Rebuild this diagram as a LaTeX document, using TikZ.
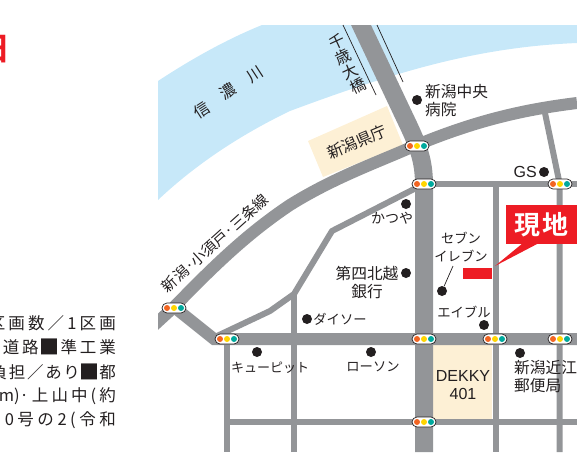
\documentclass[tikz,border=0pt]{standalone}
\usepackage{fontspec}
\setmainfont{Noto Sans CJK JP}
\newfontfamily\jpb{Noto Sans CJK JP Bold}
\newfontfamily\latn{Liberation Sans}
\definecolor{river}{HTML}{C7E8F9}
\definecolor{road}{HTML}{939598}
\definecolor{tan}{HTML}{FDF0D5}
\definecolor{mapred}{HTML}{ED1C24}
\definecolor{ink}{HTML}{231F20}
\definecolor{sigO}{HTML}{F26522}
\definecolor{sigY}{HTML}{FFD500}
\definecolor{sigG}{HTML}{00A99D}
\tikzset{
  roadwide/.style={draw=road,line width=18pt},
  roadmid/.style={draw=road,line width=12pt},
  roadthin/.style={draw=road,line width=6pt},
  lbl/.style={inner sep=0pt,text=ink,font=\fontsize{15.7}{18}\selectfont,align=center},
  lbls/.style={lbl,font=\fontsize{13.3}{18}\selectfont},
  spot/.style={circle,fill=ink,minimum size=10pt,inner sep=0pt},
  sigbox/.style={draw=ink,line width=0.7pt,fill=white,rounded corners=5pt,minimum width=24pt,minimum height=10pt,inner sep=0pt},
  sigdot/.style={circle,minimum size=6pt,inner sep=0pt},
  body/.style={inner sep=0pt,text=ink,anchor=east,font=\fontsize{16.5}{18}\selectfont}
}
\newcommand{\sig}[2]{%
  \node[sigbox] (#1) at (#2) {};
  \node[sigdot,fill=sigO,xshift=-7pt] at (#1) {};
  \node[sigdot,fill=sigY] at (#1) {};
  \node[sigdot,fill=sigG,xshift=7pt] at (#1) {};
}
\newcommand{\spread}[2]{\hbox to #1pt{\let\,\hfil #2}}
\newcommand{\blk}{\makebox[16pt]{\raisebox{-1.2pt}{\fontsize{20}{20}\selectfont ■}}}
\begin{document}
\begin{tikzpicture}[x=1pt,y=-1pt]
\useasboundingbox (0,0) rectangle (577,463);
% river
\fill[river] (158,81) .. controls (190,60) and (225,40) .. (262,25) -- (577,25) -- (577,43)
  .. controls (480,47) and (400,70) .. (290,111) .. controls (240,135) and (195,165) .. (158,200) -- cycle;
% tan blocks
\fill[tan] (308,141) -- (387,106) -- (403,145) -- (323,177) -- cycle;
\fill[tan] (433,345) rectangle (492,420);
% roads, cut to the map frame
\begin{scope}
\clip (158,25) rectangle (577,452);
\draw[roadthin] (424,184) -- (577,184);
\draw[roadthin] (227,422) -- (577,422);
\draw[roadthin] (495.5,184) -- (495.5,452);
\draw[roadthin] (559.7,452) -- (559.7,184) -- (545,113);
\draw[roadthin] (227,339) -- (227,452);
\draw[roadthin] (294,452) -- (294,294);
\draw[roadthin,line join=round] (217,336) -- (270,311) -- (294,294) -- (332,231) -- (420,186);
\draw[roadmid] (150,329) -- (174,307) .. controls (210,270) and (245,235) .. (290,205)
  .. controls (330,180) and (370,165) .. (405,150) .. controls (470,122) and (520,110) .. (577,103);
\draw[roadmid] (174,307) -- (214,339) -- (577,339);
\draw[roadwide] (352,6) -- (405,118) .. controls (418,145) and (424,160) .. (424,185) -- (424,452);
\end{scope}
% bridge railings
\draw[ink,line width=0.7pt] (343,25) -- (376,95);
\draw[ink,line width=0.7pt] (377,25) -- (403,82);
% signals
\sig{s1}{417,146}
\sig{s2}{424,184}
\sig{s3}{560,184}
\sig{s4}{174,308}
\sig{s5}{227,339}
\sig{s6}{424,339}
\sig{s7}{495,339}
\sig{s8}{560,339}
\sig{s9}{424,422}
% landmarks
\node[spot] (hosp) at (417,100) {};
\node[spot] (gs) at (544,172) {};
\node[spot] (katsu) at (406,204) {};
\node[spot] (bank) at (406,273) {};
\node[spot] (seven) at (442,291) {};
\node[spot] (able) at (484,325) {};
\node[spot] (daiso) at (307,319) {};
\node[spot] (qp) at (257,352) {};
\node[spot] (lawson) at (371,352) {};
\node[spot] (post) at (520,353) {};
\coordinate (sevenlab) at (453,266);
\draw[ink,line width=0.7pt] (seven) -- (sevenlab);
% labels
\node[lbl,anchor=west,align=left] at (425,101) {新潟中央\\病院};
\node[lbl,anchor=east,font=\latn\fontsize{16}{18}\selectfont] at (537,172) {GS};
\node[lbls,font=\fontsize{14}{18}\selectfont] at (392,218) {かつや};
\node[lbls] at (461,247) {セブン\\イレブン};
\node[lbl] at (367,283) {第四北越\\銀行};
\node[lbls] at (464,312) {エイブル};
\node[lbls] at (340,319) {ダイソー};
\node[lbls,font=\fontsize{13}{18}\selectfont] at (270,368) {キューピット};
\node[lbls] at (373,367) {ローソン};
\node[lbl,font=\latn\fontsize{16}{18.5}\selectfont] at (463,385) {DEKKY\\401};
\node[lbl,anchor=west,align=left] at (514,377) {新潟近江\\郵便局};
\node[lbl,rotate=23] at (357,142) {新潟県庁};
\node[lbl,rotate=33] at (202,110) {信};
\node[lbl,rotate=33] at (228,91) {濃};
\node[lbl,rotate=33] at (255,75) {川};
\node[lbl,rotate=25] at (337,42) {千};
\node[lbl,rotate=25] at (343,57) {歳};
\node[lbl,rotate=25] at (350,72) {大};
\node[lbl,rotate=25] at (358,86) {橋};
\node[lbl,rotate=42,font=\fontsize{15}{16}\selectfont] at (215,243) {新潟·小須戸·三条線};
% site marker
\fill[mapred] (463,268) rectangle (492,279);
\node[fill=mapred,minimum width=71pt,minimum height=39pt,inner sep=0pt] (site) at (541.5,224.5) {};
\coordinate (tip) at (495,266);
\fill[mapred] (523,243) -- (tip) -- (539,243) -- cycle;
\node[inner sep=0pt,text=white,font=\jpb\fontsize{26}{28}\selectfont] at (site) {現\hspace{2pt}地};
% cropped text on the left
\node[inner sep=0pt,text=mapred,anchor=east,font=\jpb\fontsize{32}{34}\selectfont] at (10.5,49) {日};
\node[body] at (116,323) {\spread{127}{区\,画\,数\,／\,1\,区\,画}};
\node[body] at (116,347) {\spread{113}{道\,路\,\blk\,準\,工\,業}};
\node[body] at (116,372) {\spread{125}{負\,担\,／\,あ\,り\,\blk\,都}};
\node[body] at (116,396) {\spread{117}{m)·\,上\,山\,中\,(\,約}};
\node[body] at (116,420) {\spread{111}{0\,号\,の\,2\,(\,令\,和}};
\end{tikzpicture}
\end{document}
